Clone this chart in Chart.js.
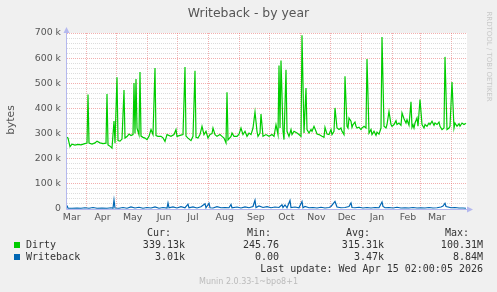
<!DOCTYPE html>
<html>
<head>
<meta charset="utf-8">
<script src="https://cdn.jsdelivr.net/npm/chart.js@4/dist/chart.umd.min.js"></script>
<style>
html,body{margin:0;padding:0;background:#f0f0f0;}
#c{display:block;}
</style>
</head>
<body>
<canvas id="c" width="497" height="292"></canvas>
<script>
// ---- data (x = days since start of graph, ~Mar 12 2025; y in thousands of bytes) ----
const dirtyDays = [0,1,3,5,8,11,14,17,20,21,22,25,28,30,33,36,39,40,41,43,45,47,48,50,51,53,55,57,58,60,62,64,66,67,68,69,70,72,73,74,76,78,80,82,84,86,88,89,91,94,96,98,100,104,107,109,110,113,116,118,119,121,124,126,128,129,131,133,135,137,139,141,143,145,146,148,150,153,155,157,159,160,161,164,165,167,170,172,174,176,178,180,182,184,186,188,190,191,193,194,196,199,202,205,207,209,211,212,213,214,216,217,219,220,222,224,225,227,230,232,234,235,237,239,240,242,244,245,247,249,250,252,255,257,258,260,262,264,265,267,268,270,272,274,275,277,278,280,281,282,284,285,286,288,289,290,292,294,295,297,299,300,302,304,305,307,309,310,312,314,315,317,319,320,322,324,325,327,329,330,332,334,335,337,339,340,342,344,345,346,347,348,350,351,353,355,357,358,360,362,363,365,367,368,370,372,373,375,377,378,380,382,383,385,387,388,390,392,393,395,397,399];
const dirtyK = [285,282,248,258,254,257,255,259,262,455,262,258,263,270,263,260,262,457,255,250,242,350,262,524,272,270,278,473,282,288,298,292,296,501,300,517,322,295,545,290,285,282,276,289,316,296,561,292,289,289,283,269,296,289,296,316,289,293,296,565,290,282,272,289,550,285,282,296,329,296,309,282,296,300,322,296,289,296,289,282,263,464,275,289,302,289,289,298,322,296,309,289,302,296,322,386,309,289,302,378,289,296,289,296,289,335,296,571,322,591,309,276,554,309,289,316,296,309,302,296,289,691,302,481,316,302,316,309,329,309,298,296,289,285,325,298,296,316,296,309,402,322,316,322,309,296,528,329,322,362,349,325,336,346,329,322,325,316,322,329,322,597,302,316,296,309,293,306,298,322,684,329,322,336,388,336,329,336,351,336,342,333,382,359,342,355,333,426,325,335,322,342,362,329,435,336,322,336,329,342,336,349,333,342,336,346,329,316,322,605,316,322,329,505,322,342,329,339,329,342,336,341];

const writebackDays = [0,1,5,10,14,18,22,26,30,35,40,44,46,47,48,52,56,60,64,68,72,76,80,84,88,92,96,100,101,102,106,110,114,118,121,122,126,130,134,138,139,142,143,146,150,154,158,162,164,165,170,174,178,182,186,188,189,192,196,200,204,208,212,215,216,218,220,223,224,228,232,235,236,238,242,246,250,254,258,262,264,268,270,274,278,282,284,285,288,292,296,300,304,308,312,315,316,318,322,326,330,334,338,342,346,350,354,358,362,366,370,374,376,378,379,381,384,388,392,396,399];
const writebackK = [14,3,3,4,3,5,3,6,3,4,3,5,3,36,4,3,6,3,8,4,7,3,6,4,8,3,6,4,24,5,8,4,9,5,19,5,8,4,9,21,5,23,5,4,9,5,6,5,18,5,8,4,8,5,10,35,6,12,6,9,5,8,6,17,6,16,5,34,6,8,5,30,5,10,5,6,4,7,4,6,10,30,8,5,6,10,24,6,5,7,4,6,4,6,5,28,10,5,6,4,7,4,5,4,6,4,5,4,6,4,5,8,12,23,10,8,5,6,4,4,3];

const monthStartDays = [19.5,49.5,80.5,110.5,141.5,172.5,202.5,233.5,263.5,294.5,325.5,353.5,384.5];
const monthLabelDays = [4.7,35.5,65.7,97,126,157.7,188.8,219.3,249.3,279.7,310,341,369.8];
const monthLabels = ['Mar','Apr','May','Jun','Jul','Aug','Sep','Oct','Nov','Dec','Jan','Feb','Mar'];

const seriesNames = ['Dirty','Writeback'];
const seriesColors = ['#00cc00','#0066b3'];
const legendCur = ['339.13k','3.01k'];
const legendMin = ['245.76','0.00'];
const legendAvg = ['315.31k','3.47k'];
const legendMax = ['100.31M','8.84M'];
const lastUpdate = 'Last update: Wed Apr 15 02:00:05 2026';
const titleText = 'Writeback - by year';
const yTitle = 'bytes';
const sideText = 'RRDTOOL / TOBI OETIKER';
const footerText = 'Munin 2.0.33-1~bpo8+1';

// ---- chart ----
const PINK = 'rgba(232,110,110,0.55)';
const GREY = 'rgba(185,185,185,0.5)';
const MONO = '10px "DejaVu Sans Mono", monospace';
const SANS = '"DejaVu Sans", sans-serif';

const decor = {
  id: 'decor',
  beforeDraw(chart) {
    const {ctx, chartArea: a} = chart;
    ctx.save();
    ctx.fillStyle = '#f0f0f0';
    ctx.fillRect(0, 0, chart.width, chart.height);
    ctx.fillStyle = '#ffffff';
    ctx.fillRect(a.left, a.top, a.right - a.left, a.bottom - a.top);
    ctx.restore();
  },
  beforeDatasetsDraw(chart) {
    const {ctx, chartArea: a} = chart;
    ctx.save();
    ctx.strokeStyle = '#b4b8ee';
    ctx.fillStyle = '#b4b8ee';
    ctx.lineWidth = 1;
    ctx.beginPath();
    ctx.moveTo(a.left - 0.5, a.bottom + 0.5);
    ctx.lineTo(a.left - 0.5, a.top - 4);
    ctx.moveTo(a.left - 0.5, a.bottom + 0.5);
    ctx.lineTo(a.right + 3, a.bottom + 0.5);
    ctx.stroke();
    ctx.beginPath();
    ctx.moveTo(a.left - 0.5, a.top - 6);
    ctx.lineTo(a.left - 3.5, a.top);
    ctx.lineTo(a.left + 2.5, a.top);
    ctx.closePath();
    ctx.fill();
    ctx.beginPath();
    ctx.moveTo(a.right + 6, a.bottom + 0.5);
    ctx.lineTo(a.right, a.bottom - 2.5);
    ctx.lineTo(a.right, a.bottom + 3.5);
    ctx.closePath();
    ctx.fill();
    ctx.restore();
  },
  afterDraw(chart) {
    const ctx = chart.ctx;
    ctx.save();
    // title
    ctx.fillStyle = '#555555';
    ctx.font = '12.4px ' + SANS;
    ctx.textAlign = 'center';
    ctx.textBaseline = 'middle';
    ctx.fillText(titleText, 248.5, 13.5);
    // y axis title
    ctx.save();
    ctx.translate(11.5, 120);
    ctx.rotate(-Math.PI / 2);
    ctx.font = '10.8px ' + SANS;
    ctx.fillText(yTitle, 0, 0);
    ctx.restore();
    // side text
    ctx.save();
    ctx.translate(488.5, 56.5);
    ctx.rotate(Math.PI / 2);
    ctx.fillStyle = '#c8c8c8';
    ctx.font = '7px ' + SANS;
    ctx.fillText(sideText, 0, 0);
    ctx.restore();
    // legend
    ctx.font = MONO;
    ctx.fillStyle = '#333333';
    ctx.textAlign = 'right';
    ctx.fillText('Cur:', 171, 233.5);
    ctx.fillText('Min:', 271, 233.5);
    ctx.fillText('Avg:', 370, 233.5);
    ctx.fillText('Max:', 469, 233.5);
    const rowsY = [245.7, 257.7];
    for (let i = 0; i < seriesNames.length; i++) {
      const y = rowsY[i];
      ctx.fillStyle = seriesColors[i];
      ctx.fillRect(14, Math.round(y - 3.5), 6, 6);
      ctx.fillStyle = '#333333';
      ctx.textAlign = 'left';
      ctx.fillText(seriesNames[i], 26, y);
      ctx.textAlign = 'right';
      ctx.fillText(legendCur[i], 185, y);
      ctx.fillText(legendMin[i], 279, y);
      ctx.fillText(legendAvg[i], 384, y);
      ctx.fillText(legendMax[i], 483, y);
    }
    ctx.fillText(lastUpdate, 483, 269.7);
    ctx.textAlign = 'center';
    ctx.fillStyle = '#bbbbbb';
    ctx.font = '8px ' + SANS;
    ctx.fillText(footerText, 248.5, 281.5);
    ctx.restore();
  }
};

new Chart(document.getElementById('c'), {
  type: 'line',
  data: {
    datasets: [
      {
        label: seriesNames[0],
        data: dirtyDays.map((d, i) => ({x: d, y: dirtyK[i] * 1000})),
        borderColor: seriesColors[0],
        borderWidth: 1.2,
        pointRadius: 0,
        tension: 0,
        fill: false
      },
      {
        label: seriesNames[1],
        data: writebackDays.map((d, i) => ({x: d, y: writebackK[i] * 1000})),
        borderColor: seriesColors[1],
        borderWidth: 1.2,
        pointRadius: 0,
        tension: 0,
        fill: false
      }
    ]
  },
  options: {
    responsive: false,
    animation: false,
    devicePixelRatio: 1,
    layout: {padding: {top: 33, right: 30, bottom: 0, left: 0}},
    plugins: {legend: {display: false}, title: {display: false}, tooltip: {enabled: false}},
    scales: {
      x: {
        type: 'linear',
        min: 0,
        max: 400,
        afterFit(scale) { scale.height = 83; },
        afterBuildTicks(scale) {
          const t = monthStartDays.map(v => ({value: v})).concat(monthLabelDays.map(v => ({value: v})));
          t.sort((p, q) => p.value - q.value);
          scale.ticks = t;
        },
        grid: {
          drawTicks: false,
          lineWidth: 1,
          color: (c) => (c.tick && monthStartDays.includes(c.tick.value)) ? PINK : 'rgba(0,0,0,0)'
        },
        border: {display: false, dash: [1, 1]},
        ticks: {
          autoSkip: false,
          maxRotation: 0,
          padding: 3,
          color: '#555555',
          font: {family: 'DejaVu Sans', size: 9.4},
          callback: (v) => {
            const i = monthLabelDays.indexOf(v);
            return i >= 0 ? monthLabels[i] : '';
          }
        }
      },
      y: {
        type: 'linear',
        min: 0,
        max: 700000,
        afterFit(scale) { scale.width = 67; },
        grid: {
          drawTicks: false,
          lineWidth: 1,
          color: (c) => (c.tick && c.tick.value % 100000 === 0) ? PINK : GREY
        },
        border: {display: false, dash: [1, 1]},
        ticks: {
          stepSize: 20000,
          maxTicksLimit: 100,
          autoSkip: false,
          padding: 6,
          color: '#555555',
          font: {family: 'DejaVu Sans', size: 9.4},
          callback: (v) => v === 0 ? '0' : (v % 100000 === 0 ? (v / 1000) + ' k' : '')
        }
      }
    }
  },
  plugins: [decor]
});
</script>
</body>
</html>
